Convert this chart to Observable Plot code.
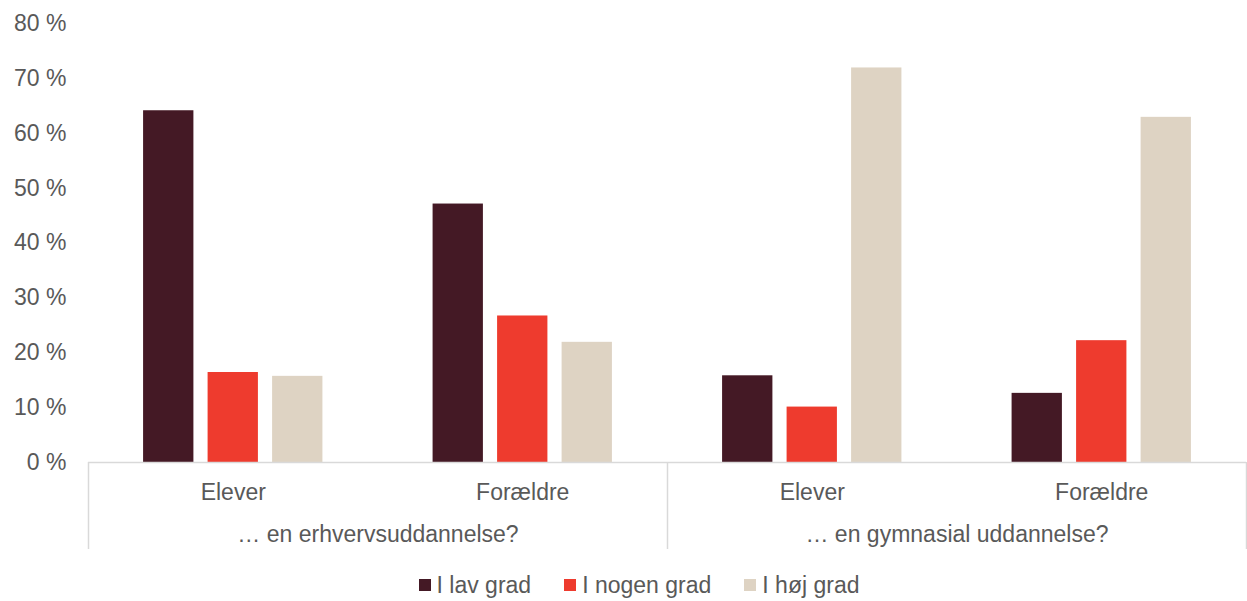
<!DOCTYPE html>
<html>
<head>
<meta charset="utf-8">
<script src="https://cdn.jsdelivr.net/npm/d3@7"></script>
<script src="https://cdn.jsdelivr.net/npm/@observablehq/plot@0.6"></script>
<style>
  html, body { margin: 0; padding: 0; background: #fff; }
  body { width: 1247px; font-family: "Liberation Sans", Arial, sans-serif; }
  #legend { display: flex; justify-content: center; align-items: center; margin-top: 12px; padding-left: 31px;
            font-size: 23px; line-height: 26px; color: #595959; }
  #legend .item { display: inline-flex; align-items: center; margin-right: 33px; }
  #legend .item:last-child { margin-right: 0; }
  #legend .sw { width: 12px; height: 12px; margin-right: 6px; display: inline-block; }
</style>
</head>
<body>
<div id="chart"></div>
<div id="legend"></div>
<script>
// ---- data ----
const categories = ["Elever", "Forældre", "Elever", "Forældre"];
const questions = ["… en erhvervsuddannelse?", "… en gymnasial uddannelse?"];
const series = ["I lav grad", "I nogen grad", "I høj grad"];
const lavGrad = [64.1, 47.1, 15.8, 12.6];
const nogenGrad = [16.4, 26.7, 10.1, 22.2];
const hojGrad = [15.7, 21.9, 71.9, 62.9];
const colors = ["#441925", "#EE3B2E", "#DED3C3"];
const yTicks = [0, 10, 20, 30, 40, 50, 60, 70, 80];

// ---- build table ----
const valuesBySeries = [lavGrad, nogenGrad, hojGrad];
const inner = d3.scaleBand(series, [-0.5, 0.5]).paddingInner(0.22).paddingOuter(0.854);
const rows = [];
categories.forEach((c, i) => {
  series.forEach((s, j) => {
    rows.push({
      cat: i,
      series: s,
      value: valuesBySeries[j][i],
      x1: i + inner(s),
      x2: i + inner(s) + inner.bandwidth()
    });
  });
});
const catIdx = categories.map((_, i) => i);
const groupBounds = [-0.5, 1.5, 3.5];
const groupCenters = questions.map((_, k) => 2 * k + 0.5);

const lineColor = "#d9d9d9";

const plot = Plot.plot({
  width: 1247,
  height: 560,
  marginLeft: 88,
  marginRight: 1,
  marginTop: 23,
  marginBottom: 98,
  style: { fontFamily: '"Liberation Sans", Arial, sans-serif', fontSize: "23px", color: "#595959", overflow: "visible" },
  x: { type: "linear", domain: [-0.5, 3.5], axis: null, label: null },
  y: { domain: [0, 80], axis: null, label: null },
  color: { domain: series, range: colors },
  marks: [
    Plot.rectY(rows, { x1: "x1", x2: "x2", y: "value", fill: "series" }),
    Plot.ruleY([0], { stroke: lineColor, strokeWidth: 1.5 }),
    Plot.axisY(yTicks, { tickSize: 0, tickPadding: 22, tickFormat: d => d + " %", fontSize: 23, label: null }),
    Plot.axisX(groupBounds, { tickSize: 87, tickFormat: () => "", stroke: lineColor, strokeWidth: 1.5, label: null }),
    Plot.axisX(catIdx, { tickSize: 0, tickPadding: 21, tickFormat: i => categories[i], fontSize: 23, label: null }),
    Plot.text(questions, { x: groupCenters, frameAnchor: "bottom", dy: 79, fontSize: 23, fill: "#595959" })
  ]
});
document.getElementById("chart").appendChild(plot);

// ---- legend ----
const legend = document.getElementById("legend");
series.forEach((s, j) => {
  const item = document.createElement("span");
  item.className = "item";
  const sw = document.createElement("span");
  sw.className = "sw";
  sw.style.background = colors[j];
  item.appendChild(sw);
  item.appendChild(document.createTextNode(s));
  legend.appendChild(item);
});
</script>
</body>
</html>
